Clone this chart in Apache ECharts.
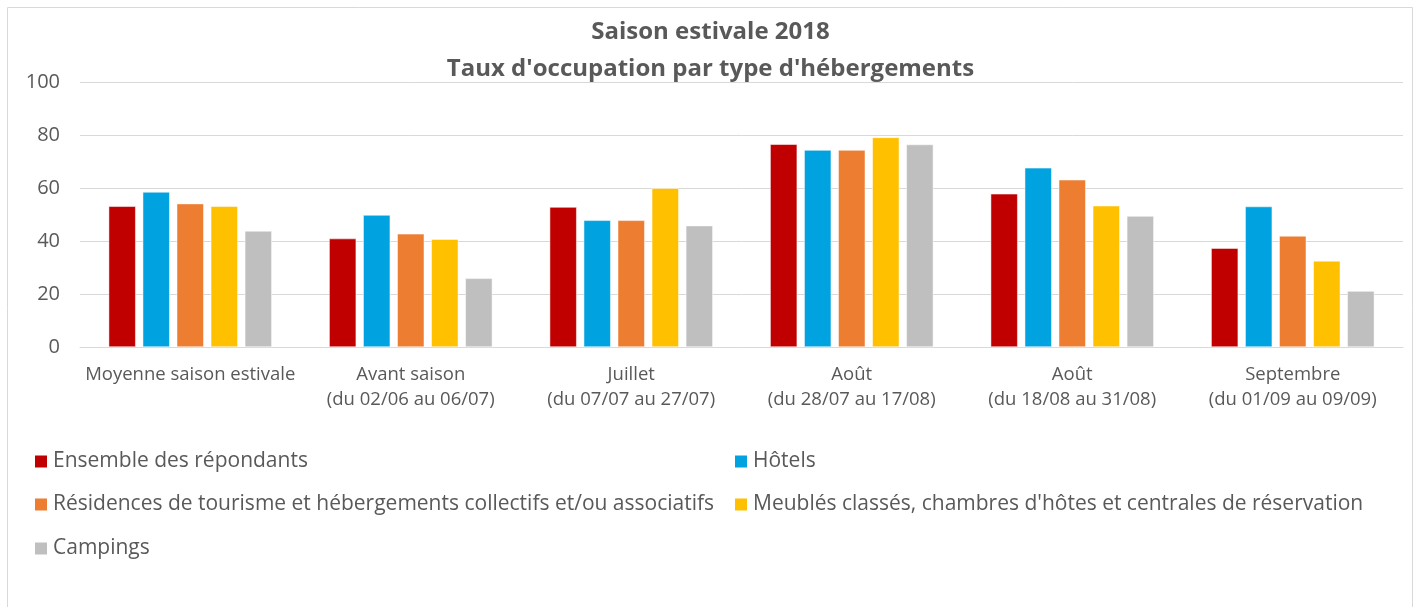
<!DOCTYPE html>
<html>
<head>
<meta charset="utf-8">
<script src="https://cdn.jsdelivr.net/npm/echarts@6/dist/echarts.min.js"></script>
<style>
  html, body { margin: 0; padding: 0; background: #fff; }
  #chart { width: 1421px; height: 607px; }
</style>
</head>
<body>
<div id="chart"></div>
<script>
var categories = [
    'Moyenne saison estivale',
    'Avant saison\n(du 02/06 au 06/07)',
    'Juillet\n(du 07/07 au 27/07)',
    'Août\n(du 28/07 au 17/08)',
    'Août\n(du 18/08 au 31/08)',
    'Septembre\n(du 01/09 au 09/09)'
];
var seriesNames = [
    'Ensemble des répondants',
    'Hôtels',
    'Résidences de tourisme et hébergements collectifs et/ou associatifs',
    'Meublés classés, chambres d\'hôtes et centrales de réservation',
    'Campings'
];
var ensemble = [53.1, 40.9, 52.8, 76.5, 57.8, 37.3];
var hotels = [58.5, 49.8, 47.8, 74.3, 67.6, 53.0];
var residences = [54.1, 42.7, 47.8, 74.3, 63.1, 41.9];
var meubles = [53.1, 40.7, 59.9, 79.1, 53.3, 32.5];
var campings = [43.8, 25.9, 45.8, 76.4, 49.4, 21.1];
var yTicks = { min: 0, max: 100, interval: 20 };

var colors = ['#c00000', '#00a2e0', '#ed7d31', '#ffc000', '#bfbfbf'];
var font = 'Open Sans';
var textColor = '#595959';

var chart = echarts.init(document.getElementById('chart'));

var allData = [ensemble, hotels, residences, meubles, campings];
var series = [];
for (var i = 0; i < allData.length; i++) {
    series.push({
        name: seriesNames[i],
        type: 'bar',
        data: allData[i],
        itemStyle: { color: colors[i], borderColor: '#fff', borderWidth: 0.5 },
        barGap: '26%',
        barCategoryGap: '26%'
    });
}

// one legend per entry so the layout matches the two-column arrangement
var legendPos = [[28, 446], [728, 446], [28, 489], [728, 489], [28, 533]];
var legends = [];
for (var j = 0; j < seriesNames.length; j++) {
    legends.push({
        data: [seriesNames[j]],
        left: legendPos[j][0],
        top: legendPos[j][1],
        icon: 'rect',
        itemWidth: 14,
        itemHeight: 14,
        itemGap: 6,
        textStyle: { color: textColor, fontSize: 21, fontFamily: font },
        selectedMode: false
    });
}

var option = {
    animation: false,
    color: colors,
    title: {
        text: 'Saison estivale 2018\nTaux d\'occupation par type d\'hébergements',
        left: 'center',
        top: 9,
        textStyle: {
            color: textColor,
            fontSize: 24,
            fontWeight: 'bold',
            fontFamily: font,
            lineHeight: 37
        }
    },
    graphic: [{
        type: 'rect',
        shape: { x: 7.5, y: 7.5, width: 1405, height: 620 },
        style: { fill: 'none', stroke: '#d9d9d9', lineWidth: 1 },
        silent: true,
        z: -1
    }],
    legend: legends,
    grid: { left: 80, right: 18, top: 82, bottom: 260 },
    xAxis: {
        type: 'category',
        data: categories,
        axisLine: { lineStyle: { color: '#d9d9d9' } },
        axisTick: { show: false },
        axisLabel: {
            color: textColor,
            fontSize: 18.5,
            fontFamily: font,
            lineHeight: 25,
            margin: 15,
            interval: 0
        }
    },
    yAxis: {
        type: 'value',
        min: yTicks.min,
        max: yTicks.max,
        interval: yTicks.interval,
        axisLine: { show: false },
        axisTick: { show: false },
        splitLine: { lineStyle: { color: '#d9d9d9' } },
        axisLabel: { color: textColor, fontSize: 20, fontFamily: font, margin: 20 }
    },
    series: series
};
chart.setOption(option);
</script>
</body>
</html>
